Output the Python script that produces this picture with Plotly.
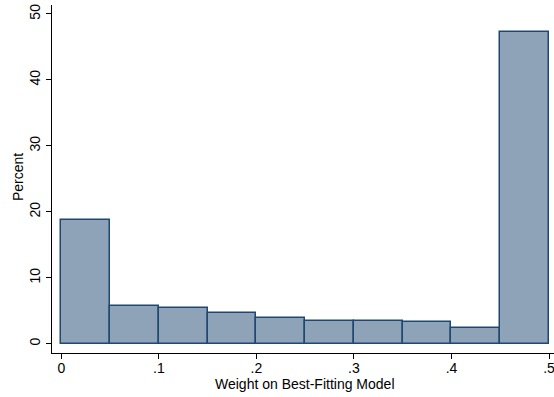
import plotly.graph_objects as go

bin_left = [0.0, 0.05, 0.10, 0.15, 0.20, 0.25, 0.30, 0.35, 0.40, 0.45]
percent = [18.8, 5.75, 5.45, 4.7, 3.9, 3.45, 3.45, 3.35, 2.45, 47.3]
bin_width = 0.05
x_ticks = [0, 0.1, 0.2, 0.3, 0.4, 0.5]
x_tick_labels = ["0", ".1", ".2", ".3", ".4", ".5"]
y_ticks = [0, 10, 20, 30, 40, 50]
y_tick_labels = ["0", "10", "20", "30", "40", "50"]
x_title = "Weight on Best-Fitting Model"
y_title = "Percent"

centers = [b + bin_width / 2 for b in bin_left]

fig = go.Figure(
    go.Bar(
        x=centers,
        y=percent,
        width=[bin_width] * len(centers),
        marker=dict(color="rgb(142,163,184)", line=dict(color="rgb(30,72,112)", width=1.5)),
        hoverinfo="skip",
    )
)

font = dict(family="Liberation Sans, Arial, sans-serif", size=14, color="black")

fig.update_layout(
    width=554,
    height=397,
    margin=dict(l=52, r=0, t=5, b=44, autoexpand=False),
    paper_bgcolor="white",
    plot_bgcolor="white",
    font=font,
    showlegend=False,
    bargap=0,
    xaxis=dict(
        range=[-0.0096, 0.5051],
        tickvals=x_ticks,
        ticktext=x_tick_labels,
        showline=True,
        linecolor="black",
        linewidth=1,
        ticks="outside",
        ticklen=5,
        tickcolor="black",
        showgrid=False,
        zeroline=False,
        automargin=False,
        ticklabeloverflow="allow",
        ticklabelstandoff=-3,
    ),
    yaxis=dict(
        range=[-1.41, 51.36],
        tickvals=y_ticks,
        ticktext=y_tick_labels,
        tickangle=-90,
        showline=True,
        linecolor="black",
        linewidth=1,
        ticks="outside",
        ticklen=5,
        tickcolor="black",
        showgrid=False,
        zeroline=False,
        automargin=False,
        ticklabeloverflow="allow",
    ),
    annotations=[
        dict(text=x_title, xref="paper", yref="paper", x=(305 - 52) / 502, y=-(384 - 353) / 348,
             xanchor="center", yanchor="middle", showarrow=False, font=font),
        dict(text=y_title, xref="paper", yref="paper", x=-(52 - 18) / 502, y=(353 - 177) / 348,
             xanchor="center", yanchor="middle", textangle=-90, showarrow=False, font=font),
    ],
)

fig.write_html(
    "out.html",
    config={"displayModeBar": False},
    post_script="document.body.style.margin='0';",
)
